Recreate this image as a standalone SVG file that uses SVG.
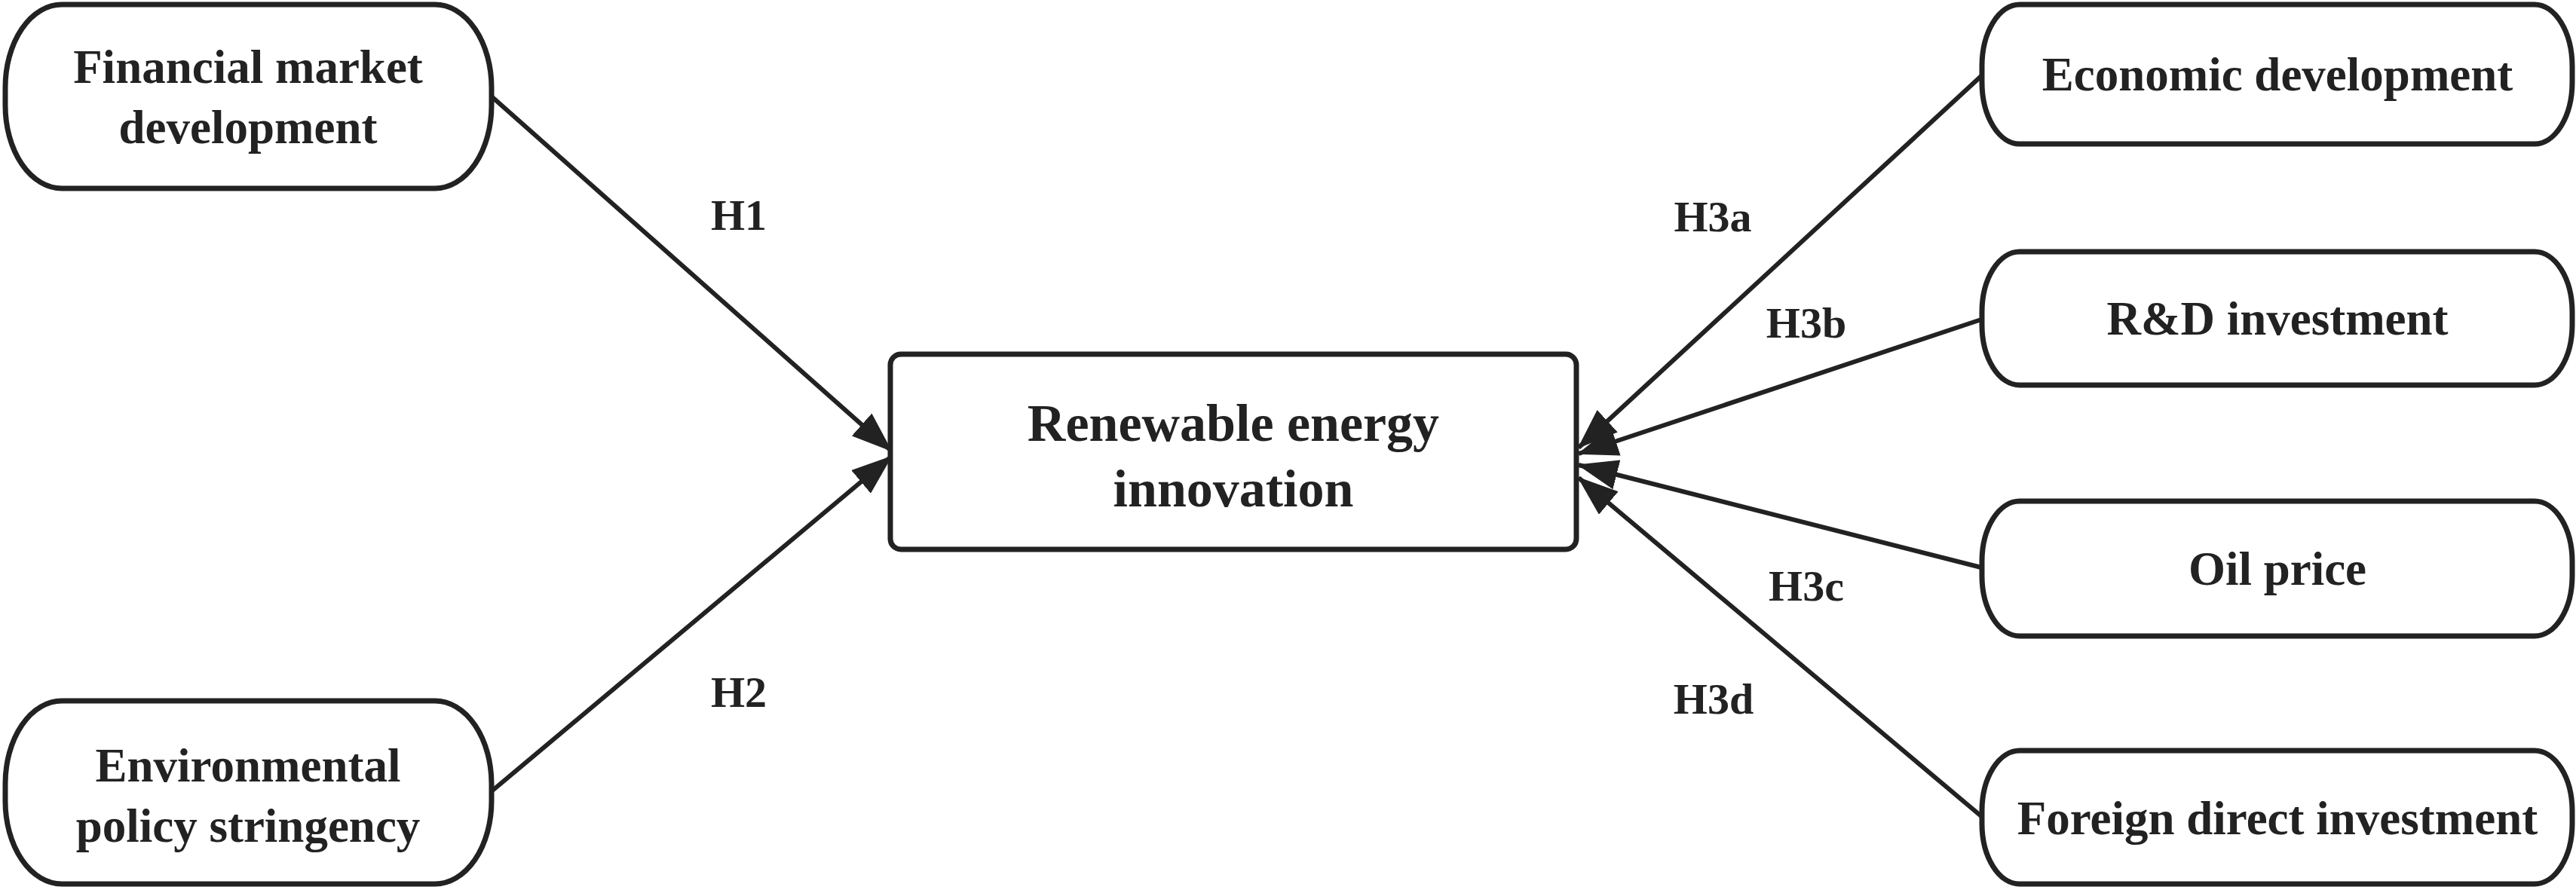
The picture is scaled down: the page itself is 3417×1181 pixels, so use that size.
<svg xmlns="http://www.w3.org/2000/svg" width="3417" height="1181" viewBox="0 0 3417 1181">
<style>
.node{fill:#fff;stroke:#222;stroke-width:7}
.t{font-family:"Liberation Serif","Times New Roman",serif;font-weight:bold;fill:#222;text-anchor:middle;font-size:63px}
.tc{font-size:70px}
.lbl{font-size:58px}
.edge{stroke:#222;stroke-width:6;fill:none;marker-end:url(#ah)}
</style>
<defs>
<marker id="ah" markerUnits="userSpaceOnUse" viewBox="0 0 54 40" markerWidth="54" markerHeight="40" refX="52" refY="20" orient="auto">
<path d="M0,0 L54,20 L0,40 z" fill="#222"/>
</marker>
</defs>
<rect width="3417" height="1181" fill="#fff"/>
<g id="connectors">
<line class="edge" x1="652" y1="128" x2="1182" y2="598"/>
<line class="edge" x1="652" y1="1050" x2="1182" y2="606"/>
<line class="edge" x1="2629" y1="100" x2="2094" y2="594"/>
<line class="edge" x1="2628" y1="424" x2="2094" y2="602"/>
<line class="edge" x1="2628" y1="753" x2="2094" y2="617"/>
<line class="edge" x1="2628" y1="1083" x2="2094" y2="634"/>
</g>
<g id="labels">
<text class="t lbl" x="980" y="305">H1</text>
<text class="t lbl" x="980" y="938">H2</text>
<text class="t lbl" x="2272" y="307">H3a</text>
<text class="t lbl" x="2396" y="448">H3b</text>
<text class="t lbl" x="2396" y="797">H3c</text>
<text class="t lbl" x="2273" y="947">H3d</text>
</g>
<g id="node-financial">
<rect class="node" x="7" y="6" width="645" height="244" rx="75" ry="110"/>
<text class="t" x="329" y="110">Financial market</text>
<text class="t" x="329" y="190">development</text>
</g>
<g id="node-environmental">
<rect class="node" x="7" y="930" width="645" height="243" rx="75" ry="110"/>
<text class="t" x="329" y="1037">Environmental</text>
<text class="t" x="329" y="1117">policy stringency</text>
</g>
<g id="node-renewable">
<rect class="node" x="1181" y="470" width="910" height="259" rx="14" ry="14"/>
<text class="t tc" x="1636" y="585">Renewable energy</text>
<text class="t tc" x="1636" y="672">innovation</text>
</g>
<g id="node-economic">
<rect class="node" x="2629" y="6" width="783" height="185" rx="50" ry="82"/>
<text class="t" x="3021" y="120">Economic development</text>
</g>
<g id="node-rd">
<rect class="node" x="2629" y="334" width="783" height="177" rx="50" ry="80"/>
<text class="t" x="3021" y="444">R&amp;D investment</text>
</g>
<g id="node-oil">
<rect class="node" x="2629" y="665" width="783" height="179" rx="50" ry="80"/>
<text class="t" x="3021" y="776">Oil price</text>
</g>
<g id="node-fdi">
<rect class="node" x="2629" y="996" width="783" height="177" rx="50" ry="80"/>
<text class="t" x="3021" y="1107">Foreign direct investment</text>
</g>
</svg>
